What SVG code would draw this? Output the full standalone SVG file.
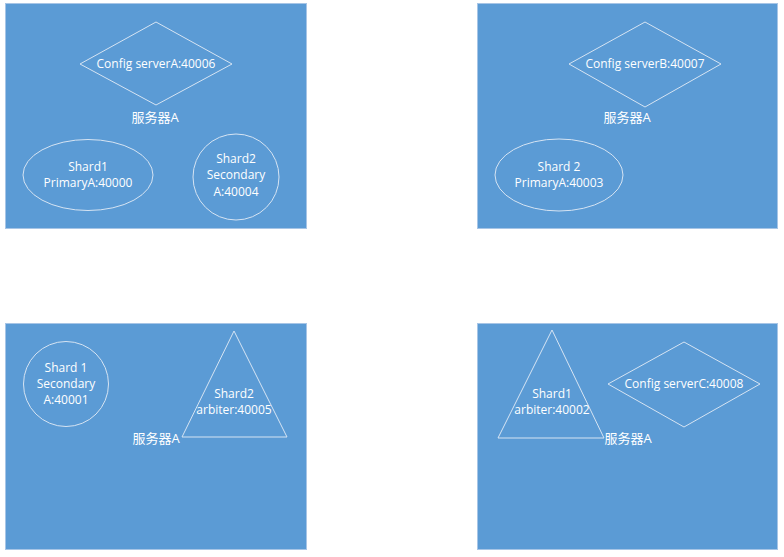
<svg xmlns="http://www.w3.org/2000/svg" width="784" height="557" viewBox="0 0 784 557">
<style>
.panel{fill:#5B9BD5;stroke:#A7C5E6;stroke-width:1}
.shape{fill:none;stroke:#D6E4F3;stroke-width:1}
text{font-family:"Open Sans","Noto Sans CJK SC",sans-serif;font-size:12px;fill:#FFFFFF;text-anchor:middle}
.cjk{font-family:"Open Sans","Noto Sans CJK SC",sans-serif;font-size:13px}
</style>
<rect width="784" height="557" fill="#FFFFFF"/>
<g id="serverA-top">
<rect class="panel" x="5.5" y="3.5" width="301" height="225"/>
</g>
<g id="serverB-top">
<rect class="panel" x="477.5" y="3.5" width="300" height="225"/>
</g>
<g id="serverA-bottom-left">
<rect class="panel" x="5.5" y="323.5" width="301" height="226"/>
</g>
<g id="serverA-bottom-right">
<rect class="panel" x="477.5" y="323.5" width="300" height="226"/>
</g>

<g id="configA">
<polygon class="shape" points="156,22 232,64 156,105 80,64"/>
<text x="156" y="68">Config serverA:40006</text>
</g>
<g id="labelA1"><text class="cjk" x="155" y="122">服务器A</text></g>
<g id="shard1-primary">
<ellipse class="shape" cx="88" cy="175" rx="65" ry="35.5"/>
<text x="88" y="171">Shard1</text>
<text x="88" y="187">PrimaryA:40000</text>
</g>
<g id="shard2-secondary">
<circle class="shape" cx="236" cy="177" r="43"/>
<text x="236" y="163">Shard2</text>
<text x="236" y="179">Secondary</text>
<text x="236" y="196">A:40004</text>
</g>

<g id="configB">
<polygon class="shape" points="645,22 721,64 645,107 569,64"/>
<text x="645" y="68">Config serverB:40007</text>
</g>
<g id="labelA2"><text class="cjk" x="627" y="122">服务器A</text></g>
<g id="shard2-primary">
<ellipse class="shape" cx="559" cy="175" rx="64" ry="36"/>
<text x="559" y="171">Shard 2</text>
<text x="559" y="187">PrimaryA:40003</text>
</g>

<g id="shard1-secondary">
<circle class="shape" cx="66" cy="384" r="42.5"/>
<text x="66" y="372">Shard 1</text>
<text x="66" y="388">Secondary</text>
<text x="66" y="404">A:40001</text>
</g>
<g id="shard2-arbiter">
<polygon class="shape" points="234,331 287,437 182,437"/>
<text x="234" y="398">Shard2</text>
<text x="234" y="414">arbiter:40005</text>
</g>
<g id="labelA3"><text class="cjk" x="156" y="443">服务器A</text></g>

<g id="shard1-arbiter">
<polygon class="shape" points="552,330 604,438 498,438"/>
<text x="552" y="398">Shard1</text>
<text x="552" y="414">arbiter:40002</text>
</g>
<g id="configC">
<polygon class="shape" points="684,342 760,384 684,427 608,384"/>
<text x="684" y="388">Config serverC:40008</text>
</g>
<g id="labelA4"><text class="cjk" x="628" y="443">服务器A</text></g>

<g id="connectors"></g>
</svg>
